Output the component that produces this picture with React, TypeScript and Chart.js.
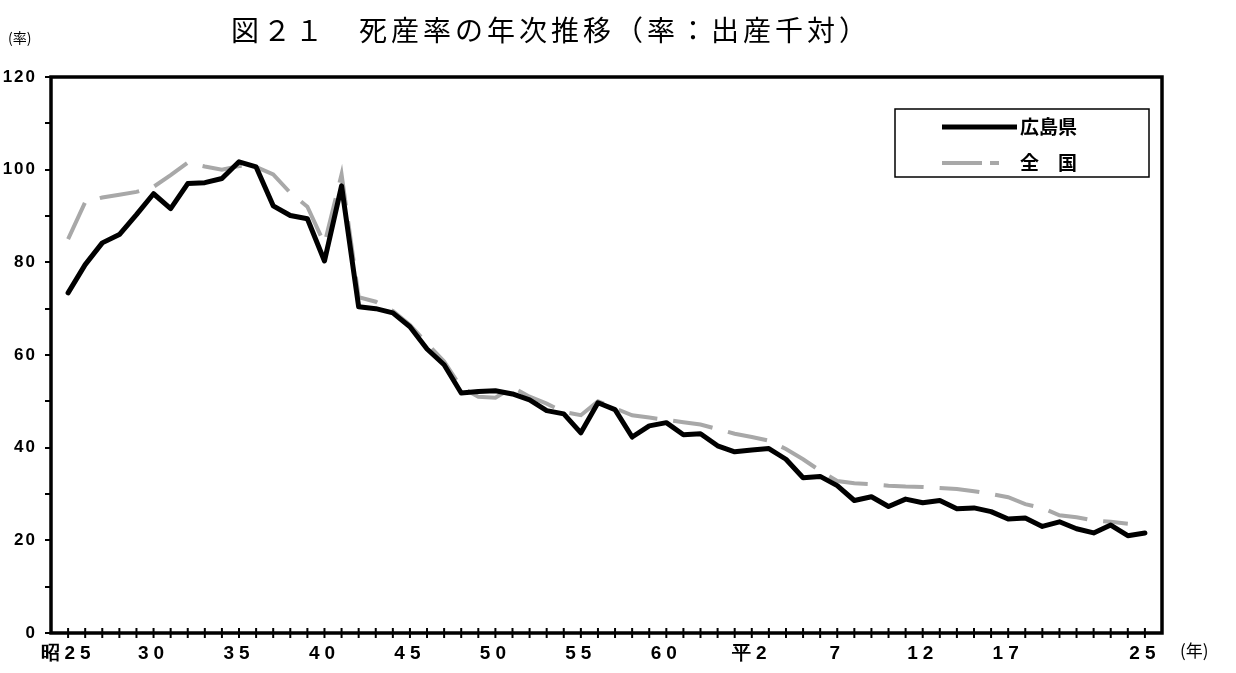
import React, { useEffect, useRef } from 'react';
import { Chart, registerables } from 'chart.js';

Chart.register(...registerables);

// Years 昭25 (1950) … 平25 (2013)
const years = [
  1950, 1951, 1952, 1953, 1954, 1955, 1956, 1957, 1958, 1959,
  1960, 1961, 1962, 1963, 1964, 1965, 1966, 1967, 1968, 1969,
  1970, 1971, 1972, 1973, 1974, 1975, 1976, 1977, 1978, 1979,
  1980, 1981, 1982, 1983, 1984, 1985, 1986, 1987, 1988, 1989,
  1990, 1991, 1992, 1993, 1994, 1995, 1996, 1997, 1998, 1999,
  2000, 2001, 2002, 2003, 2004, 2005, 2006, 2007, 2008, 2009,
  2010, 2011, 2012, 2013,
];

const hiroshima = [
  73.4, 79.5, 84.2, 86.0, 90.3, 94.8, 91.6, 97.0, 97.2, 98.1,
  101.7, 100.6, 92.2, 90.1, 89.4, 80.3, 96.5, 70.4, 70.0, 69.1,
  66.1, 61.3, 57.9, 51.8, 52.1, 52.3, 51.6, 50.3, 48.0, 47.3,
  43.2, 49.7, 48.2, 42.3, 44.7, 45.4, 42.8, 43.0, 40.4, 39.1,
  39.5, 39.8, 37.5, 33.5, 33.8, 31.8, 28.6, 29.4, 27.3, 28.9,
  28.1, 28.6, 26.8, 27.0, 26.2, 24.6, 24.8, 23.0, 24.0, 22.5,
  21.6, 23.3, 21.0, 21.6,
];

const national: (number | null)[] = [
  85.0, 93.0, 94.0, 94.6, 95.2, 96.3, 98.8, 101.5, 100.7, 100.0,
  100.8, 100.6, 99.0, 95.0, 92.0, 84.0, 99.0, 72.5, 71.5, 69.5,
  66.5, 62.5, 58.6, 53.0, 51.0, 50.8, 53.0, 51.0, 49.5, 47.7,
  47.0, 50.0, 48.5, 47.0, 46.5, 46.0, 45.5, 45.0, 44.0, 43.0,
  42.3, 41.5, 39.7, 37.5, 35.0, 32.8, 32.3, 32.1, 31.8, 31.6,
  31.5, 31.3, 31.1, 30.6, 30.0, 29.3, 27.8, 27.0, 25.4, 25.0,
  24.3, 24.0, 23.6, null,
];

const tickYears = [1950, 1955, 1960, 1965, 1970, 1975, 1980, 1985, 1990, 1995, 2000, 2005, 2013];
const tickLabels = ['昭25', '30', '35', '40', '45', '50', '55', '60', '平2', '7', '12', '17', '25'];

const seriesNames = ['広島県', '全　国'];
const titleText = '図２１　死産率の年次推移（率：出産千対）';
const yUnit = '(率)';
const xUnit = '(年)';

const CJK = '"Noto Sans CJK JP", "Noto Sans", sans-serif';
const NUM = '"Liberation Sans", Arial, sans-serif';

const decorPlugin = {
  id: 'decor',
  beforeDraw(chart: any) {
    const { ctx, width, height } = chart;
    ctx.save();
    ctx.fillStyle = '#fff';
    ctx.fillRect(0, 0, width, height);
    ctx.restore();
    // spacing for y tick labels (drawn in layer z=0)
    ctx.letterSpacing = '2px';
  },
  afterDatasetsDraw(chart: any) {
    // spacing for x tick labels (drawn in layer z=1)
    chart.ctx.letterSpacing = '5px';
  },
  afterDraw(chart: any) {
    const { ctx, chartArea: a } = chart;
    ctx.letterSpacing = '0px';
    const xs = chart.scales.x;
    ctx.save();
    // x tick marks crossing the axis
    ctx.strokeStyle = '#000';
    ctx.lineWidth = 2;
    xs.ticks.forEach((t: any) => {
      const px = xs.getPixelForValue(t.value);
      if (px <= a.left + 2 || px >= a.right - 2) return;
      ctx.beginPath();
      ctx.moveTo(px, a.bottom - 5);
      ctx.lineTo(px, a.bottom + 5);
      ctx.stroke();
    });
    // plot frame
    ctx.lineWidth = 3.5;
    ctx.strokeRect(a.left, a.top, a.right - a.left, a.bottom - a.top);

    // legend box
    const bx = a.right - 267;
    const by = a.top + 32;
    ctx.lineWidth = 1.5;
    ctx.strokeRect(bx, by, 254, 68);
    ctx.setLineDash([]);
    ctx.lineWidth = 5;
    ctx.strokeStyle = '#000';
    ctx.beginPath();
    ctx.moveTo(bx + 47, by + 18);
    ctx.lineTo(bx + 122, by + 18);
    ctx.stroke();
    ctx.lineWidth = 4;
    ctx.strokeStyle = '#a8a8a8';
    ctx.setLineDash([40, 8]);
    ctx.beginPath();
    ctx.moveTo(bx + 47, by + 54);
    ctx.lineTo(bx + 104, by + 54);
    ctx.stroke();
    ctx.setLineDash([]);
    ctx.fillStyle = '#000';
    ctx.font = `bold 19px ${CJK}`;
    ctx.textAlign = 'left';
    ctx.textBaseline = 'middle';
    ctx.fillText(seriesNames[0], bx + 125, by + 18);
    ctx.fillText(seriesNames[1], bx + 125, by + 54);

    // title
    ctx.font = `28px ${CJK}`;
    ctx.letterSpacing = '4px';
    ctx.fillText(titleText, 231, 30);
    ctx.letterSpacing = '0px';

    // unit labels
    ctx.font = `14px ${CJK}`;
    ctx.fillText(yUnit, 8, 38);
    ctx.font = `17px ${CJK}`;
    ctx.fillText(xUnit, 1180, 651);
    ctx.restore();
  },
};

export default function App() {
  const ref = useRef<HTMLCanvasElement | null>(null);

  useEffect(() => {
    document.body.style.margin = '0';
    if (!ref.current) return;
    const chart = new Chart(ref.current, {
      type: 'line',
      data: {
        datasets: [
          {
            label: seriesNames[0],
            data: years.map((yr, i) => ({ x: yr, y: hiroshima[i] })),
            borderColor: '#000',
            borderWidth: 5,
            pointRadius: 0,
            tension: 0,
            borderJoinStyle: 'round',
            borderCapStyle: 'round',
          },
          {
            label: seriesNames[1],
            data: years.map((yr, i) => ({ x: yr, y: national[i] })),
            borderColor: '#a8a8a8',
            borderWidth: 4,
            borderDash: [40, 16],
            pointRadius: 0,
            tension: 0,
            spanGaps: false,
          },
        ],
      } as any,
      options: {
        responsive: false,
        animation: false,
        maintainAspectRatio: false,
        layout: { padding: { top: 77, right: 74, bottom: 0, left: 0 } },
        plugins: {
          legend: { display: false },
          tooltip: { enabled: false },
          title: { display: false },
        },
        scales: {
          x: {
            type: 'linear',
            min: 1949,
            max: 2014,
            afterFit: (s: any) => { s.height = 40; },
            grid: { display: false, drawTicks: false, z: 0 },
            border: { display: false },
            ticks: {
              z: 1,
              stepSize: 1,
              autoSkip: false,
              maxRotation: 0,
              padding: 9,
              color: '#000',
              font: { family: NUM, size: 19, weight: 'bold' },
              callback: (v: any) => {
                const k = tickYears.indexOf(Number(v));
                return k >= 0 ? tickLabels[k] : '';
              },
            },
          },
          y: {
            min: 0,
            max: 120,
            afterFit: (s: any) => { s.width = 51; },
            grid: {
              drawOnChartArea: false,
              drawTicks: true,
              tickLength: 6,
              color: '#000',
              lineWidth: 2,
            },
            border: { display: false },
            ticks: {
              stepSize: 10,
              padding: 8,
              color: '#000',
              font: { family: NUM, size: 17, weight: 'bold' },
              callback: (v: any) => (Number(v) % 20 === 0 ? String(v) : ''),
            },
          },
        },
      } as any,
      plugins: [decorPlugin],
    });
    return () => chart.destroy();
  }, []);

  return (
    <div style={{ width: 1236, height: 673, position: 'relative' }}>
      <canvas ref={ref} width={1236} height={673} />
    </div>
  );
}
